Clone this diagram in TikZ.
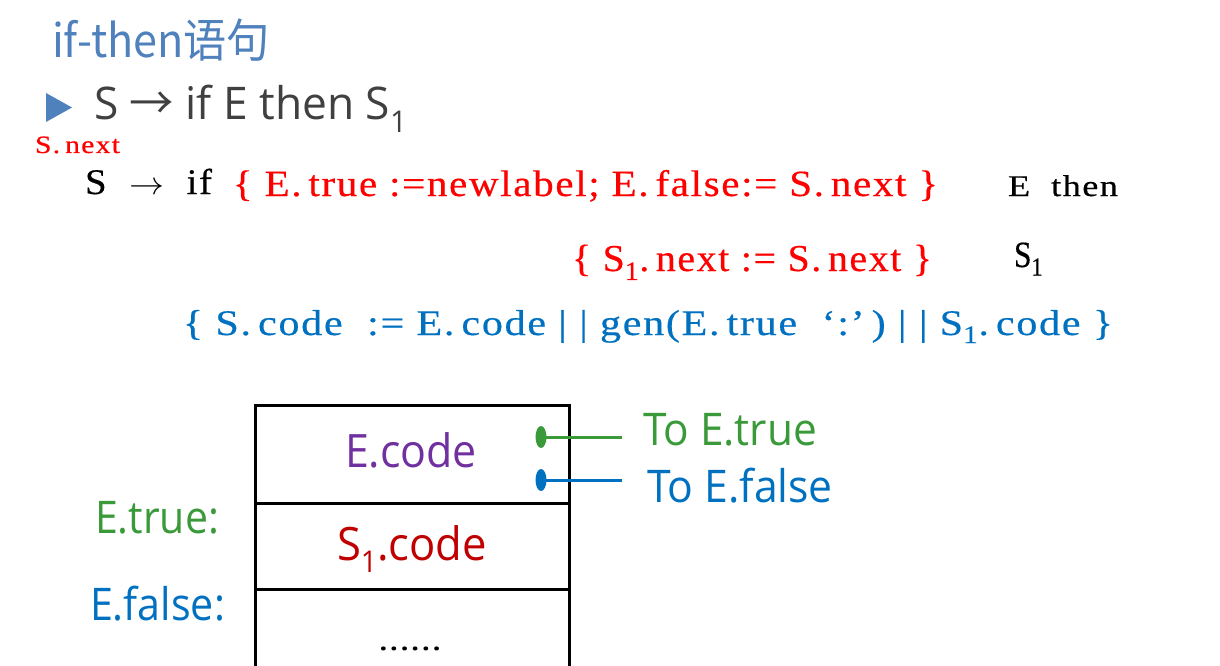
\documentclass[tikz,border=0pt]{standalone}
\usepackage{fontspec}
\usepackage{graphicx}
\usetikzlibrary{shapes.geometric}
\setmainfont{Liberation Serif}
\newfontfamily\codefont{Liberation Serif}[LetterSpace=4,FakeBold=0.4]
\newfontfamily\cjkfont{Noto Sans CJK SC}
\newfontfamily\uifont{Open Sans}
% squeeze or stretch a text horizontally to a given width (in pt), keeping its height
\newsavebox\fitbox
\newcommand\fitw[2]{%
  \sbox\fitbox{#2}%
  \pgfmathsetmacro\fitratio{#1/\wd\fitbox}%
  \scalebox{\fitratio}[1]{\usebox\fitbox}}
\newcommand\fs[1]{\fontsize{#1}{#1}\selectfont}
\newcommand\bars{|\hspace{0.3em}|}
\definecolor{titleblue}{HTML}{4F81BD}
\definecolor{maingray}{HTML}{404040}
\definecolor{codered}{HTML}{FF0000}
\definecolor{codeblue}{HTML}{0070C0}
\definecolor{truegreen}{HTML}{3A9A3A}
\definecolor{purp}{HTML}{7030A0}
\definecolor{darkred}{HTML}{C00000}
\tikzset{
  txt/.style={anchor=base west, inner sep=0pt, outer sep=0pt},
  ctxt/.style={anchor=base, inner sep=0pt, outer sep=0pt},
  cell/.style={draw=black, line width=3pt, inner sep=0pt, anchor=north west},
  pin/.style={ellipse, inner sep=0pt, minimum width=11pt, minimum height=22pt},
  lead/.style={line width=3pt}
}
\begin{document}
\begin{tikzpicture}[x=1pt,y=-1pt]
\useasboundingbox (0,0) rectangle (1220,666);
\clip (0,0) rectangle (1220,666);

% heading and production
\node[txt, text=titleblue] (title) at (52,58) {\fitw{218}{\cjkfont\fs{46}if-then语句}};
\fill[titleblue] (46,93) -- (72,107.5) -- (46,122) -- cycle;
\node[txt, text=maingray] (prod) at (94,120)
  {\fitw{313}{\uifont\fs{45}S {\cjkfont →} if E then S\raisebox{-0.28em}{\fs{30}1}}};

% translation scheme
\node[txt, text=codered] (snext) at (35,153) {\fitw{85}{\codefont\fs{25}S.\,next}};
\node[txt] (lhs) at (85,194) {\fitw{127}{\codefont\fs{36}S\ \ \scalebox{1.3}{$\rightarrow$}\ \ if}};
\node[txt, text=codered] (act1) at (233,196)
  {\fitw{705}{\codefont\fs{37}\{ E.\,true :=newlabel;\ E.\,false:= S.\,next \}}};
\node[txt] (ethen) at (1008,196) {\fitw{110}{\codefont\fs{30}E\ \ then}};
\node[txt, text=codered] (act2) at (572,271)
  {\fitw{360}{\codefont\fs{38}\{ S\textsubscript{1}.\,next\ := S.\,next \}}};
\node[txt] (sone) at (1014,267) {\fitw{29}{\codefont\fs{37}S\textsubscript{1}}};
\node[txt, text=codeblue] (act3) at (183,335)
  {\fitw{930}{\codefont\fs{36}\{ S.\,code\ \ := E.\,code\ \bars\ gen(E.\,true\ \ ‘:’\,)\ \bars\ S\textsubscript{1}.\,code \}}};

% code layout
\node[cell, minimum width=314pt, minimum height=98pt] (c1) at (254,404) {};
\node[cell, minimum width=314pt, minimum height=86pt] (c2) at (254,502) {};
\node[cell, minimum width=314pt, minimum height=110pt] (c3) at (254,588) {};

\node[ctxt, text=purp] (ecode) at (411,467) {\fitw{132}{\uifont\fs{46}E.code}};
\node[txt, text=darkred] (s1code) at (337,560)
  {\fitw{150}{\uifont\fs{46}S\raisebox{-0.28em}{\fs{30}1}.code}};
\node[ctxt] (dots) at (410,650) {\fitw{64}{\uifont\fs{30}......}};

\node[txt, text=truegreen] (etrue) at (95,533) {\fitw{124}{\uifont\fs{45}E.true:}};
\node[txt, text=codeblue] (efalse) at (90,620) {\fitw{135}{\uifont\fs{45}E.false:}};

\node[pin, fill=truegreen] (pt) at (541,437) {};
\node[pin, fill=codeblue] (pf) at (541,480) {};
\coordinate (pte) at (622,437);
\coordinate (pfe) at (622,480);
\draw[lead, truegreen] (pt.center) -- (pte);
\draw[lead, codeblue] (pf.center) -- (pfe);
\node[txt, text=truegreen] (totrue) at (643,445) {\fitw{174}{\uifont\fs{45}To E.true}};
\node[txt, text=codeblue] (tofalse) at (647,502) {\fitw{186}{\uifont\fs{45}To E.false}};
\end{tikzpicture}
\end{document}
